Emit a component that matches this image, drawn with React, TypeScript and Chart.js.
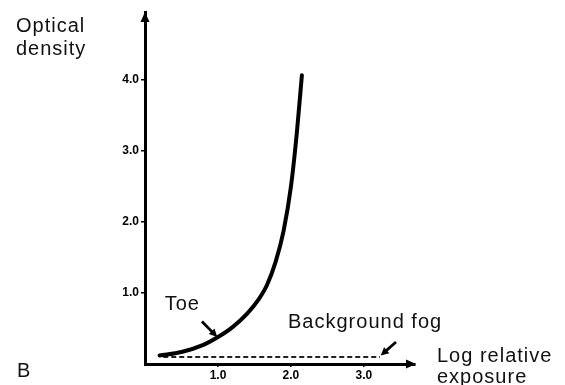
import React, { useEffect, useRef } from "react";
import { Chart, registerables } from "chart.js";

Chart.register(...registerables);

// Characteristic curve (log relative exposure vs optical density)
const curveExposure = [0.2, 0.5, 0.8, 1.0, 1.2, 1.4, 1.55, 1.67, 1.79, 1.9, 2.0, 2.08, 2.15];
const curveDensity = [0.12, 0.17, 0.27, 0.38, 0.52, 0.71, 0.9, 1.11, 1.44, 1.88, 2.5, 3.25, 4.07];

// Background fog level
const fogExposure = [0.25, 3.22];
const fogDensity = [0.1, 0.1];

// Tick labels
const xTicks = [1, 2, 3];
const yTicks = [1, 2, 3, 4];

const FONT = '"Liberation Sans", Arial, Helvetica, sans-serif';

function arrowHead(ctx: CanvasRenderingContext2D, x0: number, y0: number, x1: number, y1: number, len: number, half: number) {
  const a = Math.atan2(y1 - y0, x1 - x0);
  const bx = x1 - Math.cos(a) * len;
  const by = y1 - Math.sin(a) * len;
  ctx.beginPath();
  ctx.moveTo(x1, y1);
  ctx.lineTo(bx + Math.sin(a) * half, by - Math.cos(a) * half);
  ctx.lineTo(bx - Math.sin(a) * half, by + Math.cos(a) * half);
  ctx.closePath();
  ctx.fill();
}

const decorPlugin = {
  id: "decor",
  afterDraw(chart: any) {
    const ctx: CanvasRenderingContext2D = chart.ctx;
    const xs = chart.scales.x;
    const ys = chart.scales.y;
    const ca = chart.chartArea;
    ctx.save();
    ctx.fillStyle = "#000";
    ctx.strokeStyle = "#000";
    // axis arrowheads
    arrowHead(ctx, ca.left, ca.bottom, ca.left, ca.top, 10, 4.5);
    arrowHead(ctx, ca.left, ca.bottom, ca.right + 1, ca.bottom, 10, 4.5);

    // annotation arrows
    ctx.lineWidth = 2.8;
    const arrows = [
      [0.78, 0.6, 0.99, 0.38],
      [3.44, 0.31, 3.23, 0.12],
    ];
    for (const [a, b, c, d] of arrows) {
      const x0 = xs.getPixelForValue(a), y0 = ys.getPixelForValue(b);
      const x1 = xs.getPixelForValue(c), y1 = ys.getPixelForValue(d);
      ctx.beginPath();
      ctx.moveTo(x0, y0);
      ctx.lineTo(x1 - (x1 - x0) * 0.25, y1 - (y1 - y0) * 0.25);
      ctx.stroke();
      arrowHead(ctx, x0, y0, x1, y1, 8, 4);
    }

    // texts
    ctx.font = `20px ${FONT}`;
    (ctx as any).letterSpacing = "1px";
    ctx.textAlign = "left";
    ctx.textBaseline = "alphabetic";
    ctx.fillStyle = "#111";
    ctx.fillText("Optical", 16, 32);
    ctx.fillText("density", 16, 55);
    ctx.fillText("B", 17, 377);
    ctx.fillText("Toe", xs.getPixelForValue(0.27), ys.getPixelForValue(0.76));
    ctx.fillText("Background fog", xs.getPixelForValue(1.96), ys.getPixelForValue(0.51));
    ctx.fillText("Log relative", 437, 362);
    ctx.fillText("exposure", 437, 383);
    ctx.restore();
  },
};

export default function App() {
  const ref = useRef<HTMLCanvasElement | null>(null);
  useEffect(() => {
    if (!ref.current) return;
    const chart = new Chart(ref.current, {
      type: "line",
      data: {
        datasets: [
          {
            label: "Characteristic curve",
            data: curveExposure.map((x, i) => ({ x, y: curveDensity[i] })),
            borderColor: "#000",
            borderWidth: 4,
            pointRadius: 0,
            cubicInterpolationMode: "monotone",
            borderCapStyle: "round",
            fill: false,
          },
          {
            label: "Background fog",
            data: fogExposure.map((x, i) => ({ x, y: fogDensity[i] })),
            borderColor: "#222",
            borderWidth: 2,
            borderDash: [5, 3],
            pointRadius: 0,
            fill: false,
          },
        ],
      },
      options: {
        animation: false,
        responsive: false,
        devicePixelRatio: 1,
        layout: { padding: { left: 0, top: 12, right: 150, bottom: 0 } },
        plugins: { legend: { display: false }, tooltip: { enabled: false } },
        scales: {
          x: {
            type: "linear",
            min: 0,
            max: 3.7,
            afterBuildTicks: (s: any) => {
              s.ticks = xTicks.map((v) => ({ value: v }));
            },
            afterFit: (s: any) => {
              s.height = 21;
            },
            grid: { display: true, drawOnChartArea: false, drawTicks: true, tickLength: 3, color: "#000", lineWidth: 1.5 },
            border: { display: true, color: "#000", width: 3 },
            ticks: {
              color: "#000",
              padding: 1,
              maxRotation: 0,
              font: { family: FONT, size: 12, weight: "bold" },
              callback: (v: any) => Number(v).toFixed(1),
            },
          },
          y: {
            type: "linear",
            min: 0,
            max: 4.96,
            afterBuildTicks: (s: any) => {
              s.ticks = yTicks.map((v) => ({ value: v }));
            },
            afterFit: (s: any) => {
              s.width = 145;
            },
            grid: { display: true, drawOnChartArea: false, drawTicks: true, tickLength: 4, color: "#000", lineWidth: 1.5 },
            border: { display: true, color: "#000", width: 3 },
            ticks: {
              color: "#000",
              padding: 2,
              font: { family: FONT, size: 12, weight: "bold" },
              callback: (v: any) => Number(v).toFixed(1),
            },
          },
        },
      },
      plugins: [decorPlugin],
    } as any);
    return () => chart.destroy();
  }, []);
  return (
    <div style={{ position: "fixed", left: 0, top: 0, width: 565, height: 385, background: "#fff" }}>
      <canvas ref={ref} width={565} height={385} style={{ display: "block" }} />
    </div>
  );
}
